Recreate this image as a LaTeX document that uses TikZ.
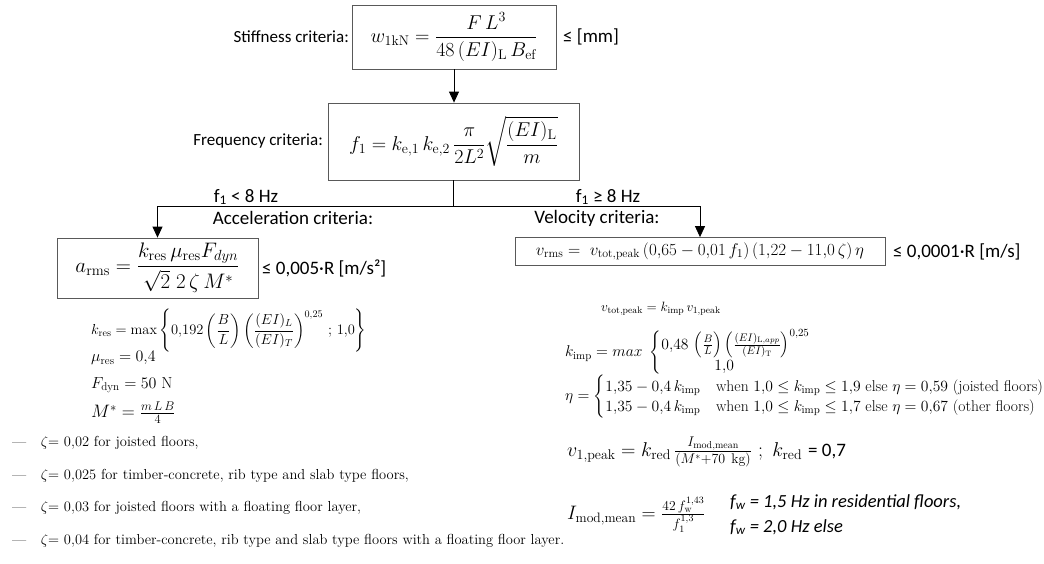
\RequirePackage{fix-cm}
\documentclass[tikz,border=0pt]{standalone}
\usepackage{amsmath}
\usepackage{fontspec}
\newfontfamily\calib{Carlito}
\usetikzlibrary{arrows.meta}
\tikzset{
  fbox/.style={draw=black!65, line width=0.8pt, inner sep=0pt, anchor=center},
  lbl/.style={font=\calib\fontsize{17}{20}\selectfont, inner sep=0pt},
  sublbl/.style={font=\calib\fontsize{19}{22}\selectfont, inner sep=0pt},
  conn/.style={draw=black, line width=0.8pt},
  arr/.style={conn, -{Triangle[width=10pt,length=11pt]}},
  det/.style={font=\fontsize{15}{18}\selectfont, inner sep=0pt, anchor=west},
  bul/.style={font=\fontsize{14.5}{17}\selectfont, inner sep=0pt, anchor=west},
}
\begin{document}
\begin{tikzpicture}[x=1pt,y=-1pt]
\useasboundingbox (0,0) rectangle (1044,563);
% Stiffness
\node[fbox, minimum width=204pt, minimum height=64pt] (stiff) at (454,37)
  {\fontsize{20}{24}\selectfont $w_{\mathrm{1kN}} = \dfrac{F\,L^3}{48\,(EI)_{\mathrm{L}}\,B_{\mathrm{ef}}}$};
\node[lbl, anchor=east] (stifflbl) at (349,37) {Stiffness criteria:};
\node[lbl, anchor=west, font=\calib\fontsize{19}{22}\selectfont] (stiffle) at (563,37) {≤ [mm]};
% Frequency
\node[fbox, minimum width=251pt, minimum height=77pt] (freq) at (453.5,141.5)
  {\fontsize{20}{24}\selectfont $f_1 = k_{\mathrm{e,1}}\,k_{\mathrm{e,2}}\,\dfrac{\pi}{2L^2}\sqrt{\dfrac{(EI)_{\mathrm{L}}}{m}}$};
\node[lbl, anchor=east] (freqlbl) at (323,141) {Frequency criteria:};
\draw[arr] (stiff.south) -- (stiff.south |- freq.north);
% branch
\coordinate (j) at (453.5,206);
\draw[conn] (freq.south) -- (j);
% Acceleration
\node[fbox, minimum width=201pt, minimum height=60pt] (acc) at (157.5,268)
  {\fontsize{21}{25}\selectfont $a_{\mathrm{rms}} = \dfrac{k_{\mathrm{res}}\,\mu_{\mathrm{res}} F_{dyn}}{\sqrt{2}\;2\,\zeta\,M^{*}}$};
\node[sublbl, anchor=west] (accle) at (262,268) {≤ 0,005·R [m/s²]};
% Velocity
\node[fbox, minimum width=370pt, minimum height=28pt] (vel) at (700,251.5)
  {\fontsize{17}{20}\selectfont $v_{\mathrm{rms}} = \;v_{\mathrm{tot,peak}}\,(0{,}65 - 0{,}01\,f_1)\,(1{,}22 - 11{,}0\,\zeta)\,\eta$};
\node[sublbl, anchor=west] (velle) at (893,252) {≤ 0,0001·R [m/s]};
\draw[arr] (j) -| (acc.north);
\draw[arr] (j) -| (vel.north);
\node[sublbl] (c1) at (246,197) {f\textsubscript{1} < 8 Hz};
\node[sublbl] (c2) at (293,218) {Acceleration criteria:};
\node[sublbl] (c3) at (608,197) {f\textsubscript{1} ≥ 8 Hz};
\node[sublbl] (c4) at (597,218) {Velocity criteria:};
% left details
\node[det, font=\fontsize{14.5}{17}\selectfont] (kres) at (91,331) {$k_{\mathrm{res}} = \max\left\{0{,}192\left(\dfrac{B}{L}\right)\left(\dfrac{(EI)_L}{(EI)_T}\right)^{0{,}25}\,;\,1{,}0\right\}$};
\node[det, font=\fontsize{16}{19}\selectfont] (mures) at (91,358) {$\mu_{\mathrm{res}} = 0{,}4$};
\node[det, font=\fontsize{16}{19}\selectfont] (fdyn) at (91,385) {$F_{\mathrm{dyn}} = 50\ \mathrm{N}$};
\node[det, font=\fontsize{18}{21}\selectfont] (mstar) at (91,413) {$M^{*} = \frac{m\,L\,B}{4}$};
\node[bul] (b1) at (12,443) {—\quad $\zeta$= 0,02 for joisted floors,};
\node[bul] (b2) at (12,476) {—\quad $\zeta$= 0,025 for timber-concrete, rib type and slab type floors,};
\node[bul] (b3) at (12,508) {—\quad $\zeta$= 0,03 for joisted floors with a floating floor layer,};
\node[bul] (b4) at (12,541) {—\quad $\zeta$= 0,04 for timber-concrete, rib type and slab type floors with a floating floor layer.};
% right details
\node[det, font=\fontsize{13.5}{16}\selectfont] (vtot) at (601,309) {$v_{\mathrm{tot,peak}} = k_{\mathrm{imp}}\,v_{\mathrm{1,peak}}$};
\node[det, font=\fontsize{15.6}{18}\selectfont] (kimp) at (565,353) {$k_{\mathrm{imp}} = max\ \begin{cases}0{,}48\,\left(\frac{B}{L}\right)\left(\frac{(EI)_{\mathrm{L},app}}{(EI)_{\mathrm{T}}}\right)^{0{,}25}\\[-3pt] \hspace{3.4em}1{,}0\end{cases}$};
\node[det, font=\fontsize{15.6}{18}\selectfont] (eta) at (565,397) {\def\arraystretch{1}$\eta = \begin{cases}1{,}35 - 0{,}4\,k_{\mathrm{imp}} & \text{when } 1{,}0 \le k_{\mathrm{imp}} \le 1{,}9 \text{ else } \eta = 0{,}59 \text{ (joisted floors)}\\[-2pt] 1{,}35 - 0{,}4\,k_{\mathrm{imp}} & \text{when } 1{,}0 \le k_{\mathrm{imp}} \le 1{,}7 \text{ else } \eta = 0{,}67 \text{ (other floors)}\end{cases}$};
\node[det, font=\fontsize{20}{24}\selectfont] (v1) at (567,452) {$v_{\mathrm{1,peak}} = k_{\mathrm{red}}\,\frac{I_{\mathrm{mod,mean}}}{(M^{*}+70\ \mathrm{kg})}\ ;\ k_{\mathrm{red}}$ {\calib\fontsize{19}{22}\selectfont = 0,7}};
\node[det, font=\fontsize{19.5}{23}\selectfont] (imod) at (567,515) {$I_{\mathrm{mod,mean}} = \frac{42\,f_{\mathrm{w}}^{1{,}43}}{f_1^{1{,}3}}$};
\node[lbl, anchor=west, font=\calib\itshape\fontsize{18.5}{22}\selectfont] (fw1) at (730,502) {f\textsubscript{w} = 1,5 Hz in residential floors,};
\node[lbl, anchor=west, font=\calib\itshape\fontsize{18.5}{22}\selectfont] (fw2) at (730,527) {f\textsubscript{w} = 2,0 Hz else};
\end{tikzpicture}
\end{document}
